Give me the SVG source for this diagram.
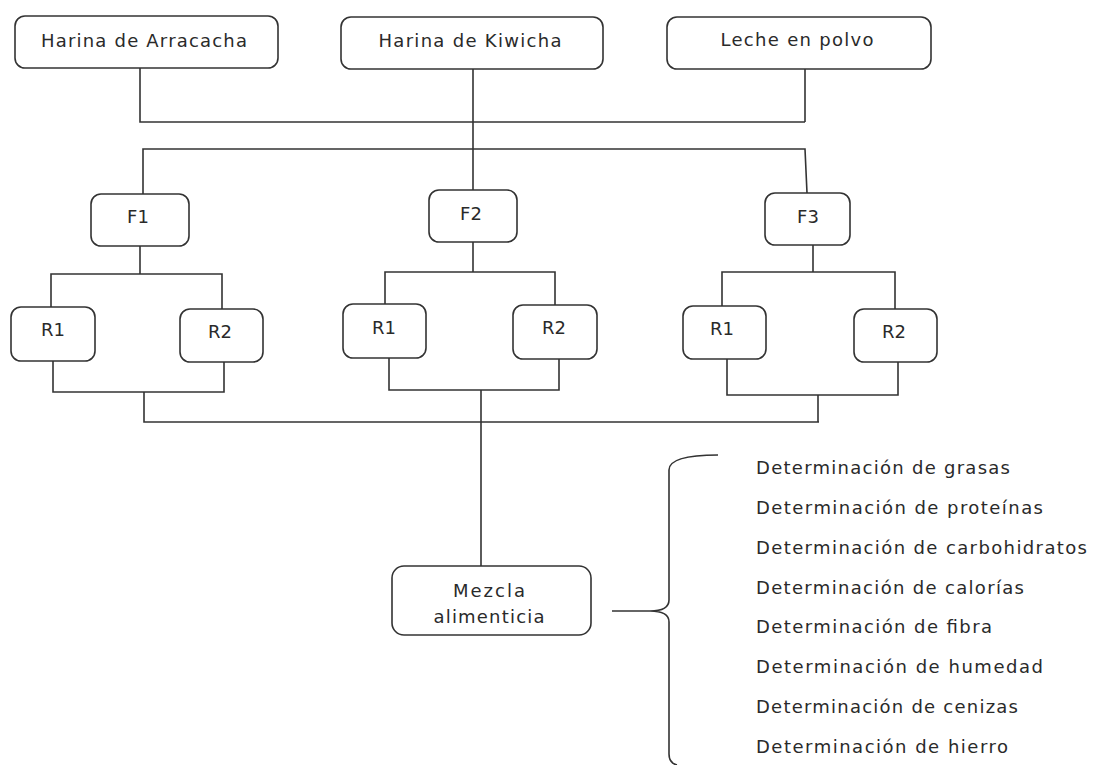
<svg xmlns="http://www.w3.org/2000/svg" width="1093" height="765" viewBox="0 0 1093 765">
<style>
.box{fill:#fff;stroke:#333;stroke-width:1.6}
.lbl{font-family:"DejaVu Sans",Verdana,sans-serif;font-size:18px;fill:#2a2a2a;text-anchor:middle}
.lst{font-family:"DejaVu Sans",Verdana,sans-serif;font-size:18px;fill:#2a2a2a}
.con{fill:none;stroke:#333;stroke-width:1.6}
</style>
<rect width="1093" height="765" fill="#fff"/>
<g id="connectors">
<path class="con" d="M140 68 V122 H805"/>
<path class="con" d="M805 69 V122"/>
<path class="con" d="M473 69 V190"/>
<path class="con" d="M143 194 V149 H805 L807 193"/>
<path class="con" d="M140 246 V274"/>
<path class="con" d="M51 307 V274 H222 V309"/>
<path class="con" d="M53 361 V392 H224 V362"/>
<path class="con" d="M144 392 V422 H819"/>
<path class="con" d="M473 242 V272"/>
<path class="con" d="M385 304 V272 H555 V305"/>
<path class="con" d="M389 358 V390 H559 V359"/>
<path class="con" d="M481 390 V566"/>
<path class="con" d="M813 245 V272"/>
<path class="con" d="M722 306 V272 H895 V309"/>
<path class="con" d="M727 359 V395 H898 V362"/>
<path class="con" d="M818 395 V422"/>
<path class="con" d="M612 611 H650"/>
<path class="con" d="M718 455 Q669 455 669 470 L669 600 Q669 611 650 611 Q669 611 669 622 L669 754 Q669 763 677 765"/>
</g>
<g id="n-arracacha"><rect class="box" x="15" y="16" width="263" height="52" rx="10"/><text class="lbl" x="144" y="47" textLength="206" lengthAdjust="spacing">Harina de Arracacha</text></g>
<g id="n-kiwicha"><rect class="box" x="341" y="17" width="262" height="52" rx="10"/><text class="lbl" x="470" y="47" textLength="183" lengthAdjust="spacing">Harina de Kiwicha</text></g>
<g id="n-leche"><rect class="box" x="667" y="17" width="264" height="52" rx="10"/><text class="lbl" x="797" y="46" textLength="153" lengthAdjust="spacing">Leche en polvo</text></g>
<g id="n-f1"><rect class="box" x="91" y="194" width="98" height="52" rx="10"/><text class="lbl" x="138" y="223">F1</text></g>
<g id="n-f2"><rect class="box" x="429" y="190" width="88" height="52" rx="10"/><text class="lbl" x="471" y="220">F2</text></g>
<g id="n-f3"><rect class="box" x="765" y="193" width="85" height="52" rx="10"/><text class="lbl" x="808" y="223">F3</text></g>
<g id="n-f1-r1"><rect class="box" x="11" y="307" width="84" height="54" rx="10"/><text class="lbl" x="53" y="336">R1</text></g>
<g id="n-f1-r2"><rect class="box" x="180" y="309" width="83" height="53" rx="10"/><text class="lbl" x="220" y="338">R2</text></g>
<g id="n-f2-r1"><rect class="box" x="343" y="304" width="83" height="54" rx="10"/><text class="lbl" x="384" y="334">R1</text></g>
<g id="n-f2-r2"><rect class="box" x="513" y="305" width="84" height="54" rx="10"/><text class="lbl" x="554" y="334">R2</text></g>
<g id="n-f3-r1"><rect class="box" x="683" y="306" width="83" height="53" rx="10"/><text class="lbl" x="722" y="335">R1</text></g>
<g id="n-f3-r2"><rect class="box" x="854" y="309" width="83" height="53" rx="10"/><text class="lbl" x="894" y="338">R2</text></g>
<g id="n-mezcla"><rect class="box" x="392" y="566" width="199" height="69" rx="12"/><text class="lbl" x="489" y="597" textLength="72" lengthAdjust="spacing">Mezcla</text><text class="lbl" x="489" y="623" textLength="111" lengthAdjust="spacing">alimenticia</text></g>
<g id="list">
<text class="lst" x="756" y="474" textLength="254" lengthAdjust="spacing">Determinación de grasas</text>
<text class="lst" x="756" y="514" textLength="287" lengthAdjust="spacing">Determinación de proteínas</text>
<text class="lst" x="756" y="554" textLength="331" lengthAdjust="spacing">Determinación de carbohidratos</text>
<text class="lst" x="756" y="594" textLength="268" lengthAdjust="spacing">Determinación de calorías</text>
<text class="lst" x="756" y="633" textLength="236" lengthAdjust="spacing">Determinación de fibra</text>
<text class="lst" x="756" y="673" textLength="287" lengthAdjust="spacing">Determinación de humedad</text>
<text class="lst" x="756" y="713" textLength="262" lengthAdjust="spacing">Determinación de cenizas</text>
<text class="lst" x="756" y="753" textLength="252" lengthAdjust="spacing">Determinación de hierro</text>
</g>
</svg>
